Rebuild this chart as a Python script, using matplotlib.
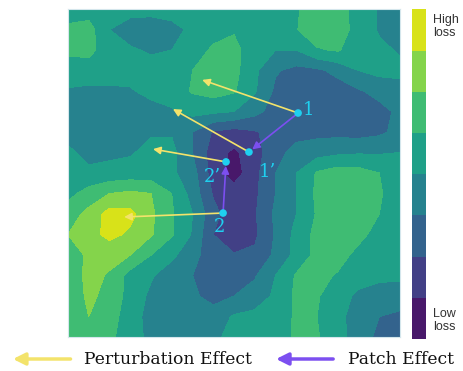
import matplotlib
matplotlib.use("Agg")
import matplotlib.pyplot as plt
import numpy as np

# loss level on a 17 x 17 grid, rows from top to bottom
loss = [
    [4.5, 4.5, 4.4, 4.3, 4.3, 4.4, 4.4, 4.3, 4.2, 4.2, 4.3, 4.9, 5.5, 5.4, 4.6, 3.9, 3.5],
    [5.2, 5.4, 4.0, 3.6, 3.5, 3.7, 4.2, 4.5, 4.9, 4.5, 4.4, 4.95, 5.6, 5.5, 4.6, 3.9, 3.6],
    [5.2, 5.3, 4.4, 4.1, 3.9, 4.0, 4.4, 5.2, 5.3, 4.4, 4.0, 4.0, 4.9, 5.1, 4.4, 4.2, 3.9],
    [4.5, 4.5, 4.5, 4.4, 4.3, 4.3, 5.0, 5.5, 5.3, 4.2, 3.1, 2.7, 2.8, 3.3, 4.0, 4.3, 4.2],
    [3.9, 3.8, 3.8, 3.9, 4.3, 4.4, 5.1, 5.4, 5.1, 4.1, 2.8, 2.4, 2.4, 2.5, 2.9, 3.3, 3.7],
    [3.5, 3.3, 3.4, 3.5, 3.6, 3.9, 4.3, 4.2, 4.0, 3.3, 2.6, 2.3, 2.4, 2.4, 2.5, 2.7, 3.2],
    [3.6, 3.4, 3.4, 3.5, 3.9, 3.9, 3.0, 1.9, 1.6, 1.9, 2.4, 2.6, 2.7, 2.7, 2.6, 2.8, 3.3],
    [4.2, 3.7, 3.8, 3.9, 4.3, 4.3, 3.0, 1.5, 0.8, 1.6, 2.6, 3.4, 3.6, 3.8, 3.9, 3.9, 4.0],
    [4.4, 4.2, 4.3, 4.4, 4.4, 4.2, 3.4, 1.5, 0.5, 1.7, 3.0, 4.0, 5.1, 5.5, 5.4, 5.0, 4.5],
    [4.7, 5.4, 6.0, 6.2, 6.0, 5.0, 3.6, 1.9, 1.5, 1.8, 3.0, 4.0, 5.2, 5.6, 5.6, 5.1, 4.5],
    [5.5, 6.3, 7.4, 7.3, 6.2, 5.1, 4.0, 2.3, 1.4, 1.9, 3.2, 4.0, 5.1, 5.5, 5.5, 5.0, 4.4],
    [6.0, 6.6, 7.3, 6.8, 6.1, 5.1, 3.9, 2.0, 1.5, 1.8, 3.1, 4.3, 5.3, 5.5, 5.3, 4.6, 4.3],
    [5.4, 6.2, 6.3, 6.0, 5.0, 4.2, 3.4, 2.3, 2.05, 2.2, 3.2, 4.3, 5.3, 5.4, 4.7, 4.4, 4.3],
    [5.3, 6.3, 5.9, 4.6, 4.1, 3.5, 3.0, 2.5, 2.5, 2.9, 4.0, 5.1, 5.3, 4.9, 4.4, 4.2, 4.2],
    [5.3, 6.2, 5.7, 4.6, 3.8, 3.4, 3.2, 2.6, 3.0, 3.4, 4.2, 5.2, 5.1, 4.4, 3.8, 3.6, 3.5],
    [5.3, 6.0, 5.4, 4.5, 3.6, 3.5, 3.4, 3.5, 4.1, 4.3, 4.6, 5.1, 5.0, 4.3, 3.5, 3.0, 2.8],
    [5.2, 5.4, 5.2, 4.5, 3.7, 3.6, 3.6, 3.8, 4.3, 4.4, 4.7, 5.1, 5.1, 4.3, 3.6, 2.7, 2.6],
]
levels = np.arange(0, 9)

# points (x, y) as fraction of the panel, y measured from the top
starts = {"1": (0.693, 0.317), "1’": (0.545, 0.436),
          "2’": (0.476, 0.466), "2": (0.467, 0.622)}
perturb_tips = {"1": (0.404, 0.216), "1’": (0.316, 0.305),
                "2’": (0.256, 0.427), "2": (0.169, 0.634)}
patches = [("1", "1’"), ("2", "2’")]
label_pos = {"1": (0.723, 0.308), "1’": (0.602, 0.497),
             "2’": (0.434, 0.512), "2": (0.455, 0.665)}

yellow = "#f3e36b"
purple = "#7c4ff0"
cyan = "#1fd0f0"
serif = "DejaVu Serif"

Z = np.array(loss)
xs = np.linspace(0, 1, Z.shape[1])
ys = np.linspace(0, 1, Z.shape[0])

fig = plt.figure(figsize=(4.64, 3.71), dpi=100)
ax = fig.add_axes([0.1466, 0.0916, 0.7155, 0.884])
cf = ax.contourf(xs, ys, Z, levels=levels, cmap="viridis")
ax.set_xlim(0, 1)
ax.set_ylim(1, 0)
ax.set_xticks([])
ax.set_yticks([])
for s in ax.spines.values():
    s.set_color("#d4e6ec")
    s.set_linewidth(0.8)

for k, tip in perturb_tips.items():
    ax.annotate("", xy=tip, xytext=starts[k],
                arrowprops=dict(arrowstyle="-|>", color=yellow, lw=1.2,
                                mutation_scale=11, shrinkA=0, shrinkB=0))
for a, b in patches:
    ax.annotate("", xy=starts[b], xytext=starts[a],
                arrowprops=dict(arrowstyle="-|>", color=purple, lw=1.2,
                                mutation_scale=11, shrinkA=0, shrinkB=3))

px = [p[0] for p in starts.values()]
py = [p[1] for p in starts.values()]
ax.scatter(px, py, s=30, color=cyan, zorder=5, edgecolors="none")
for k, (lx, ly) in label_pos.items():
    ax.text(lx, ly, k, color=cyan, fontsize=13, family=serif,
            ha="center", va="center", zorder=6)

cax = fig.add_axes([0.888, 0.086, 0.030, 0.889])
cb = fig.colorbar(cf, cax=cax)
cb.set_ticks([])
cb.outline.set_visible(False)
fig.text(0.933, 0.962, "High\nloss", fontsize=9, color="#333333",
         family="Liberation Sans", ha="left", va="top", linespacing=1.1)
fig.text(0.933, 0.102, "Low\nloss", fontsize=9, color="#333333",
         family="Liberation Sans", ha="left", va="bottom", linespacing=1.1)

# legend drawn under the panel
ly = 1 - 359 / 371
ax.annotate("", xy=(0.028, ly), xytext=(0.152, ly), xycoords="figure fraction",
            arrowprops=dict(arrowstyle="-|>", color=yellow, lw=2.5,
                            mutation_scale=18, shrinkA=0, shrinkB=0))
fig.text(0.181, ly, "Perturbation Effect", fontsize=12.3, family=serif,
         color="#111111", ha="left", va="center")
ax.annotate("", xy=(0.595, ly), xytext=(0.718, ly), xycoords="figure fraction",
            arrowprops=dict(arrowstyle="-|>", color=purple, lw=2.5,
                            mutation_scale=18, shrinkA=0, shrinkB=0))
fig.text(0.750, ly, "Patch Effect", fontsize=12.3, family=serif,
         color="#111111", ha="left", va="center")

fig.savefig("out.png", dpi=100)
